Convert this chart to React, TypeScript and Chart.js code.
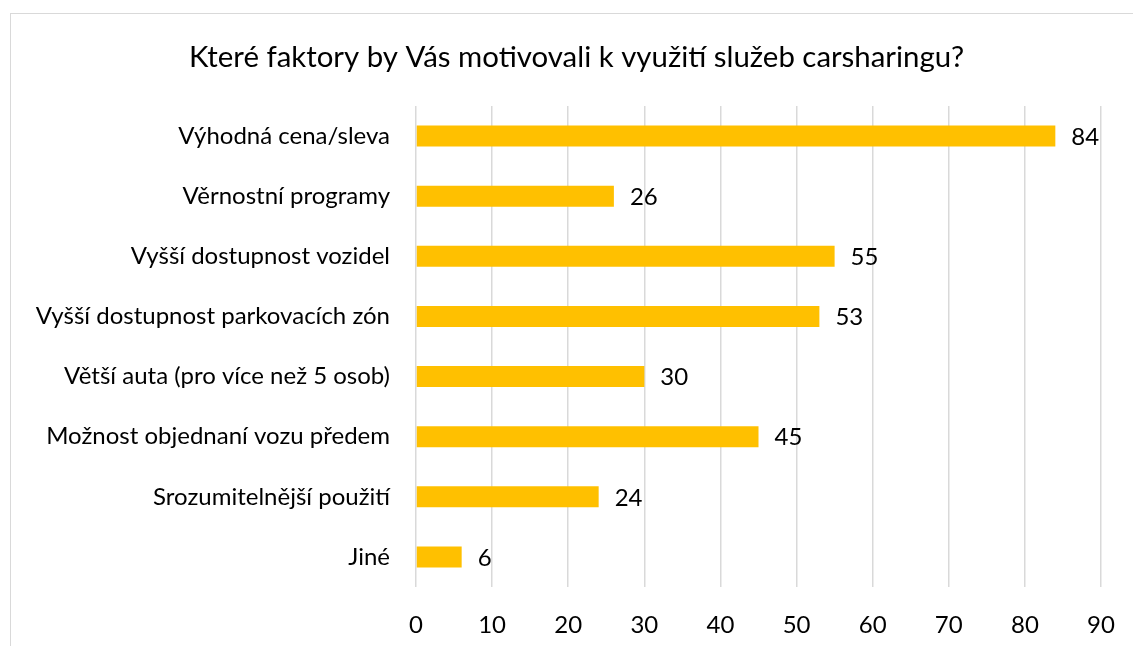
import React, { useEffect, useRef } from "react";
import { Chart, registerables } from "chart.js";

Chart.register(...registerables);

const categories = [
  "Výhodná cena/sleva",
  "Věrnostní programy",
  "Vyšší dostupnost vozidel",
  "Vyšší dostupnost parkovacích zón",
  "Větší auta (pro více než 5 osob)",
  "Možnost objednaní vozu předem",
  "Srozumitelnější použití",
  "Jiné",
];
const values = [84, 26, 55, 53, 30, 45, 24, 6];
const titleText = "Které faktory by Vás motivovali k využití služeb carsharingu?";
const FONT = "Lato";

const valueLabels = {
  id: "valueLabels",
  afterDatasetsDraw(chart: any) {
    const ctx = chart.ctx;
    const meta = chart.getDatasetMeta(0);
    ctx.save();
    ctx.font = `24px ${FONT}`;
    ctx.fillStyle = "#000";
    ctx.textAlign = "left";
    ctx.textBaseline = "middle";
    meta.data.forEach((bar: any, i: number) => {
      ctx.fillText(String(values[i]), bar.x + 16, bar.y + 1);
    });
    ctx.restore();
  },
};

const titlePlugin = {
  id: "customTitle",
  afterDraw(chart: any) {
    const ctx = chart.ctx;
    ctx.save();
    ctx.font = `29.4px ${FONT}`;
    ctx.fillStyle = "#000";
    ctx.textAlign = "center";
    ctx.textBaseline = "middle";
    ctx.fillText(titleText, 576.5, 58);
    ctx.restore();
  },
};

export default function App() {
  const ref = useRef<HTMLCanvasElement>(null);
  useEffect(() => {
    if (!ref.current) return;
    const chart = new Chart(ref.current, {
      type: "bar",
      data: {
        labels: categories,
        datasets: [
          {
            data: values,
            backgroundColor: "#FFC000",
            barPercentage: 0.7,
            categoryPercentage: 0.5,
          },
        ],
      },
      options: {
        indexAxis: "y",
        responsive: false,
        animation: false,
        layout: { padding: { left: 0, right: 32, top: 106, bottom: 0 } },
        plugins: {
          legend: { display: false },
          tooltip: { enabled: false },
          title: { display: false },
        },
        scales: {
          x: {
            min: 0,
            max: 90,
            ticks: {
              stepSize: 10,
              color: "#000",
              font: { family: FONT, size: 24 },
              padding: 24,
            },
            grid: { color: "#d9d9d9", lineWidth: 1.5, drawTicks: false },
            border: { display: false },
            afterFit: (s: any) => {
              s.height = 59;
              s.paddingRight = 0;
              s.paddingLeft = 0;
            },
          },
          y: {
            ticks: {
              color: "#000",
              font: { family: FONT, size: 24 },
              padding: 26,
            },
            grid: { display: false, drawTicks: false },
            border: { display: false },
            afterFit: (s: any) => {
              s.width = 416;
            },
          },
        },
      },
      plugins: [valueLabels, titlePlugin],
    });
    return () => chart.destroy();
  }, []);
  return (
    <div style={{ position: "fixed", left: 0, top: 0, width: 1133, height: 646, background: "#fff", overflow: "hidden" }}>
      <div style={{ position: "absolute", left: 10, top: 13, width: 1200, height: 700, border: "1.5px solid #d9d9d9" }} />
      <canvas ref={ref} width={1133} height={646} style={{ position: "absolute", left: 0, top: 0 }} />
    </div>
  );
}
